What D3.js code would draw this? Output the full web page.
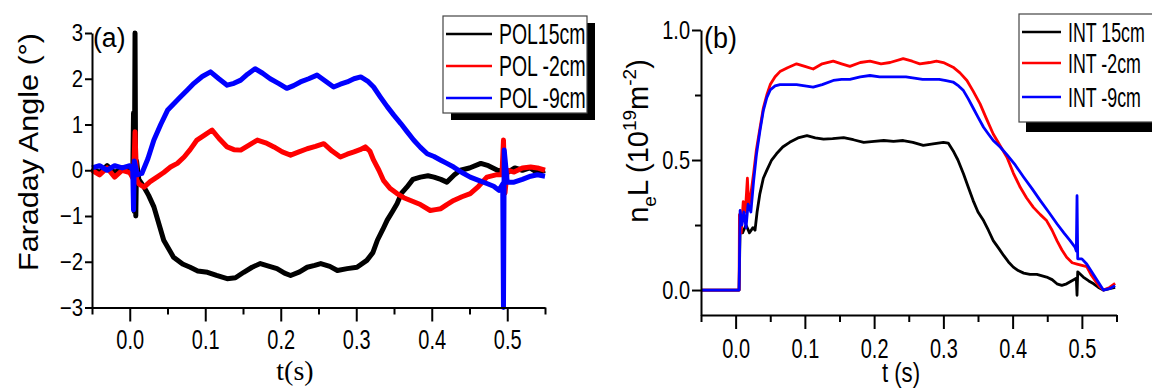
<!DOCTYPE html>
<html>
<head>
<meta charset="utf-8">
<script src="https://cdn.jsdelivr.net/npm/d3@7"></script>
<style>
  body { margin: 0; background: #fff; }
  svg { display: block; font-family: "Liberation Sans", Arial, sans-serif; }
  .axis path, .axis line { stroke: #000; stroke-width: 2; }
  .axis text { fill: #000; }
</style>
</head>
<body>
<svg id="chart" width="1152" height="389"></svg>
<script>
// ---- panel (a): Faraday angle, degrees ----
const polNames = ['POL15cm', 'POL -2cm', 'POL -9cm'];
const pol15T = [-0.05, -0.04, -0.03, -0.02, -0.01, 0.0, 0.004, 0.005, 0.006, 0.007, 0.008, 0.009, 0.012, 0.019, 0.025, 0.032, 0.045, 0.058, 0.07, 0.08, 0.09, 0.103, 0.115, 0.129, 0.14, 0.151, 0.162, 0.173, 0.185, 0.195, 0.205, 0.213, 0.225, 0.235, 0.245, 0.253, 0.265, 0.275, 0.288, 0.301, 0.314, 0.322, 0.328, 0.335, 0.341, 0.348, 0.354, 0.36, 0.367, 0.375, 0.385, 0.395, 0.403, 0.412, 0.42, 0.43, 0.438, 0.45, 0.465, 0.475, 0.487, 0.5, 0.51, 0.52, 0.53, 0.54, 0.55];
const pol15V = [0.05, -0.05, 0.1, -0.05, 0.05, 0.0, -0.1, 1.25, -0.9, 3.0, -1.0, 0.2, -0.2, -0.37, -0.55, -0.8, -1.53, -1.9, -2.05, -2.12, -2.2, -2.23, -2.3, -2.37, -2.35, -2.23, -2.12, -2.04, -2.1, -2.15, -2.25, -2.3, -2.22, -2.12, -2.08, -2.04, -2.1, -2.19, -2.15, -2.12, -1.97, -1.8, -1.53, -1.3, -1.09, -0.9, -0.73, -0.5, -0.37, -0.2, -0.15, -0.12, -0.15, -0.2, -0.26, -0.1, 0.0, 0.05, 0.15, 0.1, 0.0, -0.05, 0.05, 0.0, 0.05, -0.05, 0.0];
const polM2T = [-0.05, -0.04, -0.03, -0.02, -0.01, 0.0, 0.005, 0.007, 0.009, 0.012, 0.019, 0.027, 0.036, 0.045, 0.054, 0.063, 0.072, 0.08, 0.089, 0.1, 0.109, 0.118, 0.129, 0.138, 0.147, 0.158, 0.169, 0.18, 0.191, 0.202, 0.213, 0.224, 0.235, 0.246, 0.257, 0.268, 0.279, 0.288, 0.297, 0.305, 0.312, 0.318, 0.323, 0.33, 0.336, 0.345, 0.354, 0.363, 0.372, 0.385, 0.398, 0.405, 0.412, 0.42, 0.429, 0.44, 0.451, 0.462, 0.473, 0.485, 0.493, 0.495, 0.497, 0.5, 0.509, 0.52, 0.531, 0.54, 0.55];
const polM2V = [0.0, -0.1, 0.05, -0.15, 0.0, -0.05, -0.2, 0.84, -0.2, -0.3, -0.37, -0.25, -0.15, -0.05, 0.07, 0.15, 0.29, 0.45, 0.66, 0.78, 0.88, 0.7, 0.51, 0.45, 0.44, 0.55, 0.66, 0.6, 0.51, 0.4, 0.33, 0.4, 0.47, 0.52, 0.58, 0.42, 0.29, 0.35, 0.4, 0.45, 0.51, 0.42, 0.22, 0.0, -0.22, -0.4, -0.51, -0.6, -0.66, -0.75, -0.88, -0.86, -0.84, -0.75, -0.66, -0.58, -0.51, -0.35, -0.15, -0.1, -0.1, 0.66, -0.5, 0.0, -0.04, 0.05, 0.07, 0.05, 0.0];
const polM9T = [-0.05, -0.04, -0.03, -0.02, -0.01, 0.0, 0.004, 0.005, 0.006, 0.01, 0.016, 0.024, 0.032, 0.041, 0.05, 0.058, 0.067, 0.076, 0.085, 0.096, 0.107, 0.118, 0.129, 0.138, 0.147, 0.156, 0.166, 0.176, 0.186, 0.197, 0.208, 0.217, 0.226, 0.237, 0.248, 0.259, 0.27, 0.279, 0.288, 0.297, 0.306, 0.315, 0.323, 0.332, 0.341, 0.35, 0.359, 0.367, 0.376, 0.385, 0.394, 0.403, 0.412, 0.42, 0.429, 0.44, 0.451, 0.462, 0.473, 0.482, 0.489, 0.494, 0.495, 0.496, 0.5, 0.509, 0.52, 0.531, 0.54, 0.55];
const polM9V = [0.05, 0.1, 0.0, 0.1, 0.05, 0.1, 0.0, -0.87, 0.2, -0.1, -0.07, 0.25, 0.66, 1.0, 1.31, 1.45, 1.6, 1.75, 1.9, 2.05, 2.15, 2.0, 1.86, 1.9, 1.97, 2.1, 2.22, 2.12, 2.0, 1.9, 1.79, 1.85, 1.93, 2.0, 2.08, 1.95, 1.82, 1.88, 1.93, 2.0, 2.04, 1.95, 1.82, 1.6, 1.39, 1.2, 1.02, 0.85, 0.66, 0.5, 0.36, 0.3, 0.22, 0.15, 0.07, -0.05, -0.15, -0.22, -0.29, -0.35, -0.44, -0.3, -3.0, 0.44, -0.26, -0.26, -0.2, -0.13, -0.1, -0.13];

// ---- panel (b): line-integrated density ----
const intNames = ['INT 15cm', 'INT -2cm', 'INT -9cm'];
const int15T = [-0.05, -0.03, -0.01, 0.0, 0.005, 0.0065, 0.01, 0.015, 0.02, 0.025, 0.028, 0.031, 0.035, 0.04, 0.045, 0.052, 0.059, 0.068, 0.078, 0.09, 0.103, 0.115, 0.127, 0.14, 0.156, 0.17, 0.185, 0.2, 0.214, 0.228, 0.242, 0.256, 0.271, 0.285, 0.3, 0.307, 0.314, 0.321, 0.329, 0.336, 0.343, 0.35, 0.358, 0.365, 0.372, 0.38, 0.387, 0.394, 0.401, 0.408, 0.416, 0.425, 0.435, 0.449, 0.457, 0.464, 0.471, 0.478, 0.485, 0.492, 0.493, 0.494, 0.502, 0.51, 0.517, 0.524, 0.531, 0.54, 0.548];
const int15V = [0, 0, 0, 0, 0, 0.24, 0.22, 0.25, 0.22, 0.24, 0.23, 0.3, 0.37, 0.43, 0.46, 0.5, 0.524, 0.55, 0.568, 0.585, 0.594, 0.585, 0.58, 0.582, 0.586, 0.578, 0.568, 0.572, 0.575, 0.572, 0.575, 0.568, 0.556, 0.562, 0.568, 0.565, 0.536, 0.5, 0.447, 0.395, 0.344, 0.3, 0.267, 0.23, 0.19, 0.16, 0.133, 0.108, 0.088, 0.075, 0.065, 0.06, 0.06, 0.05, 0.04, 0.024, 0.018, 0.024, 0.035, 0.045, -0.02, 0.07, 0.05, 0.035, 0.024, 0.01, 0.0, 0.005, 0.01];
const intM2T = [-0.05, -0.03, -0.01, 0.0, 0.005, 0.0055, 0.008, 0.011, 0.014, 0.017, 0.019, 0.022, 0.026, 0.03, 0.035, 0.04, 0.045, 0.05, 0.057, 0.064, 0.075, 0.088, 0.1, 0.112, 0.125, 0.141, 0.153, 0.165, 0.18, 0.194, 0.21, 0.223, 0.242, 0.255, 0.266, 0.28, 0.29, 0.3, 0.314, 0.324, 0.334, 0.343, 0.353, 0.362, 0.372, 0.382, 0.392, 0.401, 0.411, 0.42, 0.43, 0.44, 0.449, 0.457, 0.464, 0.471, 0.478, 0.486, 0.493, 0.5, 0.507, 0.513, 0.519, 0.525, 0.531, 0.54, 0.548];
const intM2V = [0, 0, 0, 0, 0, 0.29, 0.22, 0.34, 0.3, 0.43, 0.32, 0.37, 0.45, 0.54, 0.62, 0.7, 0.75, 0.79, 0.82, 0.84, 0.855, 0.87, 0.86, 0.85, 0.87, 0.88, 0.87, 0.86, 0.875, 0.88, 0.87, 0.875, 0.89, 0.88, 0.87, 0.875, 0.88, 0.875, 0.857, 0.835, 0.806, 0.765, 0.716, 0.66, 0.6, 0.555, 0.51, 0.45, 0.395, 0.355, 0.318, 0.29, 0.267, 0.23, 0.19, 0.155, 0.126, 0.105, 0.1, 0.095, 0.09, 0.06, 0.037, 0.015, 0.0, 0.01, 0.026];
const intM9T = [-0.05, -0.03, -0.01, 0.0, 0.005, 0.0065, 0.009, 0.012, 0.015, 0.018, 0.022, 0.026, 0.03, 0.035, 0.04, 0.045, 0.05, 0.057, 0.064, 0.075, 0.088, 0.1, 0.112, 0.125, 0.141, 0.153, 0.165, 0.18, 0.194, 0.208, 0.223, 0.235, 0.246, 0.258, 0.27, 0.282, 0.294, 0.304, 0.314, 0.322, 0.329, 0.336, 0.343, 0.35, 0.358, 0.365, 0.372, 0.382, 0.392, 0.404, 0.416, 0.428, 0.44, 0.452, 0.464, 0.474, 0.483, 0.49, 0.492, 0.493, 0.494, 0.5, 0.507, 0.513, 0.519, 0.525, 0.531, 0.54, 0.548];
const intM9V = [0, 0, 0, 0, 0, 0.306, 0.25, 0.3, 0.24, 0.33, 0.3, 0.42, 0.52, 0.61, 0.69, 0.74, 0.77, 0.785, 0.79, 0.79, 0.79, 0.785, 0.78, 0.79, 0.806, 0.81, 0.81, 0.82, 0.825, 0.82, 0.82, 0.82, 0.82, 0.815, 0.81, 0.81, 0.81, 0.805, 0.8, 0.785, 0.767, 0.735, 0.7, 0.665, 0.626, 0.6, 0.575, 0.55, 0.52, 0.48, 0.434, 0.39, 0.344, 0.3, 0.255, 0.22, 0.19, 0.165, 0.15, 0.363, 0.12, 0.12, 0.1, 0.075, 0.05, 0.025, 0.0, 0.005, 0.017];

// ---- ticks ----
const xMajor = [0.0, 0.1, 0.2, 0.3, 0.4, 0.5];
const xMinor = [-0.05, 0.05, 0.15, 0.25, 0.35, 0.45, 0.55];
const yTicksA = [-3, -2, -1, 0, 1, 2, 3];
const yMajorB = [0.0, 0.5, 1.0];
const yMinorB = [0.25, 0.75];

const colors = ['#000000', '#ff0000', '#0000ff'];

const svg = d3.select('#chart');

// condense horizontal text (the original figure is squeezed sideways)
function squeeze(sel, ratio) {
  sel.each(function () {
    const x = +this.getAttribute('x') || 0;
    this.setAttribute('x', x / ratio);
    this.setAttribute('transform', `scale(${ratio},1)`);
  });
}

function zipSeries(ts, vs) {
  return ts.map((t, i) => ({ t: t, v: vs[i] }));
}

/* ---------------- panel (a) ---------------- */
const xA = d3.scaleLinear().domain([-0.05, 0.55]).range([92, 545]);
const yA = d3.scaleLinear().domain([-3, 3]).range([307.5, 33]);

const seriesA = [zipSeries(pol15T, pol15V), zipSeries(polM2T, polM2V), zipSeries(polM9T, polM9V)];
const lineA = d3.line().x(d => xA(d.t)).y(d => yA(d.v));

svg.append('g')
  .selectAll('path')
  .data(seriesA)
  .enter().append('path')
    .attr('d', lineA)
    .attr('fill', 'none')
    .attr('stroke', (d, i) => colors[i])
    .attr('stroke-width', 5)
    .attr('stroke-linejoin', 'round');

const gxA = svg.append('g').attr('class', 'axis').attr('transform', `translate(0,${yA(-3)})`);
gxA.call(d3.axisBottom(xA).tickValues(xMajor).tickSize(14).tickSizeOuter(0).tickPadding(8)
  .tickFormat(d3.format('.1f')));
gxA.selectAll('text').attr('font-size', 27).call(squeeze, 0.74);
svg.append('g').attr('class', 'axis').attr('transform', `translate(0,${yA(-3)})`)
  .call(d3.axisBottom(xA).tickValues(xMinor).tickSize(7).tickFormat(''))
  .select('.domain').remove();

const gyA = svg.append('g').attr('class', 'axis').attr('transform', `translate(${xA(-0.05)},0)`);
gyA.call(d3.axisLeft(yA).tickValues(yTicksA).tickSize(7).tickSizeOuter(0).tickPadding(2)
  .tickFormat(d3.format('d')));
gyA.selectAll('text').attr('font-size', 24).call(squeeze, 0.85);

svg.append('text')
  .attr('transform', 'translate(38,152) rotate(-90)')
  .attr('text-anchor', 'middle')
  .attr('font-size', 28)
  .attr('textLength', 238)
  .attr('lengthAdjust', 'spacingAndGlyphs')
  .text('Faraday Angle (\u00B0)');

svg.append('text')
  .attr('x', 295).attr('y', 380)
  .attr('text-anchor', 'middle')
  .attr('font-family', '"Liberation Serif", "Times New Roman", serif')
  .attr('font-size', 28)
  .text('t(s)');

svg.append('text')
  .attr('x', 93).attr('y', 47)
  .attr('font-size', 28)
  .text('(a)')
  .call(squeeze, 0.95);

/* ---------------- panel (b) ---------------- */
const xB = d3.scaleLinear().domain([-0.05, 0.55]).range([701, 1116.5]);
const yB = d3.scaleLinear().domain([-0.096, 1.0]).range([315, 30]);

const seriesB = [zipSeries(int15T, int15V), zipSeries(intM2T, intM2V), zipSeries(intM9T, intM9V)];
const lineB = d3.line().x(d => xB(d.t)).y(d => yB(d.v));

svg.append('g')
  .selectAll('path')
  .data(seriesB)
  .enter().append('path')
    .attr('d', lineB)
    .attr('fill', 'none')
    .attr('stroke', (d, i) => colors[i])
    .attr('stroke-width', 2.8)
    .attr('stroke-linejoin', 'round');

const gxB = svg.append('g').attr('class', 'axis').attr('transform', `translate(0,${yB(-0.096)})`);
gxB.call(d3.axisBottom(xB).tickValues(xMajor).tickSize(14).tickSizeOuter(0).tickPadding(10)
  .tickFormat(d3.format('.1f')));
gxB.selectAll('text').attr('font-size', 27).call(squeeze, 0.74);
svg.append('g').attr('class', 'axis').attr('transform', `translate(0,${yB(-0.096)})`)
  .call(d3.axisBottom(xB).tickValues(xMinor).tickSize(7).tickFormat(''))
  .select('.domain').remove();

const gyB = svg.append('g').attr('class', 'axis').attr('transform', `translate(${xB(-0.05)},0)`);
gyB.call(d3.axisLeft(yB).tickValues(yMajorB).tickSize(9).tickSizeOuter(0).tickPadding(2)
  .tickFormat(d3.format('.1f')));
gyB.selectAll('text').attr('font-size', 25).call(squeeze, 0.8);
svg.append('g').attr('class', 'axis').attr('transform', `translate(${xB(-0.05)},0)`)
  .call(d3.axisLeft(yB).tickValues(yMinorB).tickSize(6).tickFormat(''))
  .select('.domain').remove();

// n_e L (10^19 m^-2)
const yLab = svg.append('text')
  .attr('transform', 'translate(648,141) rotate(-90)')
  .attr('text-anchor', 'middle')
  .attr('font-size', 29);
yLab.append('tspan').text('n');
yLab.append('tspan').attr('font-size', 19).attr('dy', 8).text('e');
yLab.append('tspan').attr('dy', -8).text('L (10');
yLab.append('tspan').attr('font-size', 19).attr('dy', -12).text('19');
yLab.append('tspan').attr('dy', 12).text('m');
yLab.append('tspan').attr('font-size', 19).attr('dy', -12).text('-2');
yLab.append('tspan').attr('dy', 12).text(')');

svg.append('text')
  .attr('x', 901).attr('y', 382)
  .attr('text-anchor', 'middle')
  .attr('font-size', 28)
  .text('t (s)')
  .call(squeeze, 0.79);

svg.append('text')
  .attr('x', 704).attr('y', 48)
  .attr('font-size', 30)
  .text('(b)')
  .call(squeeze, 0.9);

/* ---------------- legends ---------------- */
function legend(x, y, w, h, dx, dy, names, rows, textX, fontSize, ratio) {
  const g = svg.append('g').attr('transform', `translate(${x},${y})`);
  g.append('rect').attr('x', dx).attr('y', dy).attr('width', w).attr('height', h).attr('fill', '#000');
  g.append('rect').attr('width', w).attr('height', h)
    .attr('fill', '#fff').attr('stroke', '#444').attr('stroke-width', 1.2);
  names.forEach((n, i) => {
    g.append('line')
      .attr('x1', 3).attr('x2', textX - 7)
      .attr('y1', rows[i]).attr('y2', rows[i])
      .attr('stroke', colors[i]).attr('stroke-width', 2.6);
    g.append('text')
      .attr('x', textX).attr('y', rows[i])
      .attr('dy', '0.36em')
      .attr('font-size', fontSize)
      .text(n)
      .call(squeeze, ratio);
  });
}
legend(443, 16, 144, 97, 8, 7, polNames, [18, 50, 82], 56, 29, 0.67);
legend(1019, 14, 136, 108, 7, 10, intNames, [18, 49, 83], 49, 27, 0.66);
</script>
</body>
</html>
